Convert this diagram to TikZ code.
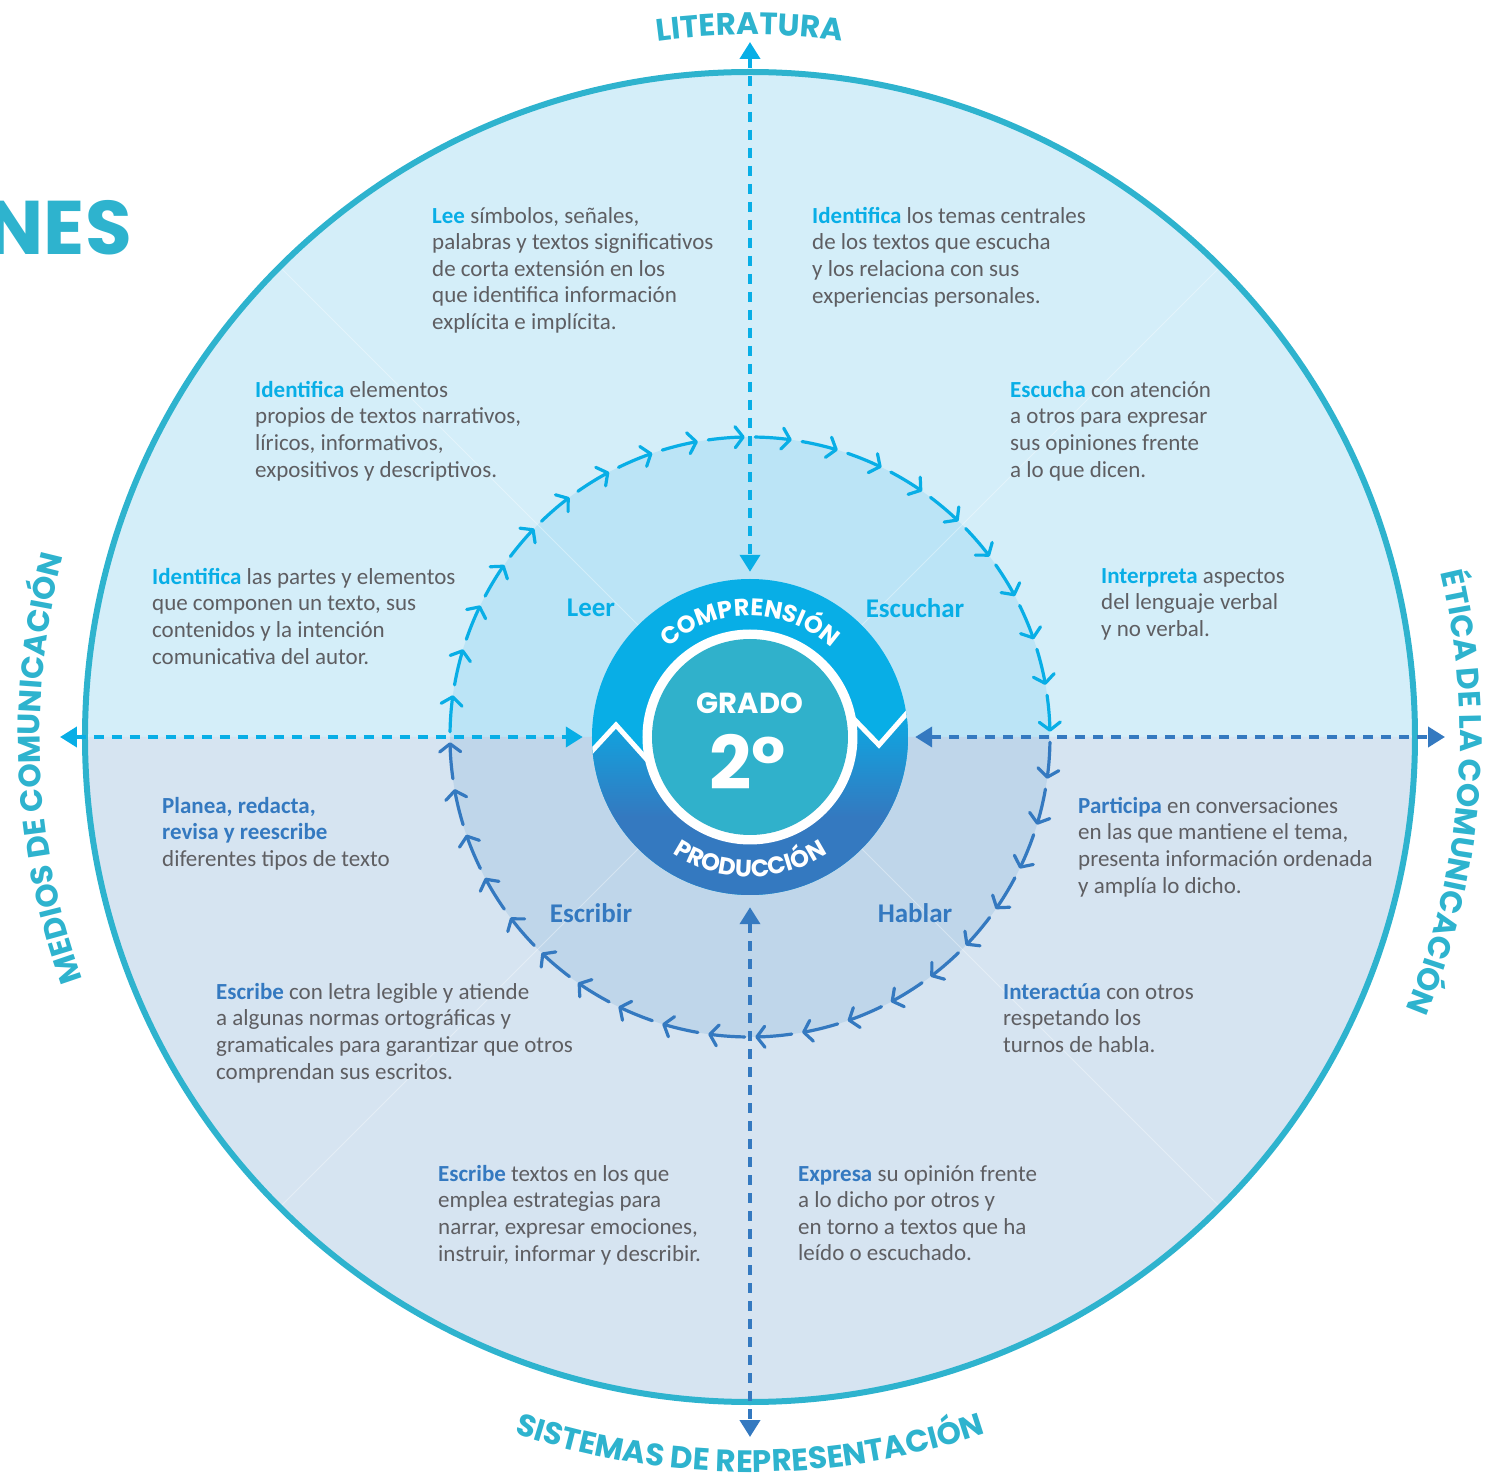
\documentclass[tikz,border=0pt]{standalone}
\usepackage{fontspec}
\usetikzlibrary{arrows.meta,decorations.text}
\newfontfamily\bodyfont{Carlito}
\newfontfamily\headfont{Poppins}
\definecolor{skyA}{HTML}{D4EEF9}
\definecolor{skyB}{HTML}{D6E4F1}
\definecolor{ringA}{HTML}{BBE4F6}
\definecolor{ringB}{HTML}{BFD6EA}
\definecolor{tealC}{HTML}{2EB3CE}
\definecolor{cyanC}{HTML}{08AEE6}
\definecolor{blueC}{HTML}{3479C0}
\definecolor{grayT}{HTML}{5E5E62}
\definecolor{coreT}{HTML}{30B1CB}
\newcommand{\kwc}[1]{\textbf{\color{cyanC}#1}}
\newcommand{\kwb}[1]{\textbf{\color{blueC}#1}}

\begin{document}
\begin{tikzpicture}[x=1pt,y=1pt,
  desc/.style={anchor=north west, inner sep=0pt, align=left, text=grayT, font=\bodyfont\fontsize{23}{26.6}\selectfont},
  skill/.style={inner sep=0pt, font=\bodyfont\bfseries\fontsize{27}{27}\selectfont},
  axisline/.style={color=#1, line width=4pt, dash pattern=on 10pt off 8pt, {Triangle[length=17pt,width=20pt]}-{Triangle[length=17pt,width=20pt]}},
  ringarrow/.style={line width=3.2pt, line cap=round, -{Straight Barb[length=8pt,width=21pt,round]}},
  arclabel/.style={decorate, decoration={text along path, text={|\headfont\bfseries\fontsize{31}{31}\selectfont|#1}, text align=center, text color=tealC}},
  corelabel/.style={decorate, decoration={text along path, text={|\headfont\bfseries\fontsize{24}{24}\selectfont|#1}, text align=center, text color=white}}]
\useasboundingbox (-750,-743) rectangle (750,737);

\fill[skyA] (665pt,0) arc[start angle=0, end angle=180, radius=665pt] -- cycle;
\fill[skyB] (-665pt,0) arc[start angle=180, end angle=360, radius=665pt] -- cycle;
\fill[ringA] (300pt,0) arc[start angle=0, end angle=180, radius=300pt] -- cycle;
\fill[ringB] (-300pt,0) arc[start angle=180, end angle=360, radius=300pt] -- cycle;
\foreach \d in {45,135,225,315}
  \draw[white, opacity=0.35, line width=1pt] (\d:158pt) -- (\d:662pt);
\draw[tealC, line width=6pt] (0,0) circle[radius=665pt];

\node[circle, minimum size=316pt, inner sep=0pt] (core) at (0,0) {};
\coordinate (lit) at (0,695);
\coordinate (rep) at (0,-700);
\coordinate (med) at (-690,0);
\coordinate (eti) at (695,0);
\draw[axisline=cyanC] (lit) -- ([yshift=7pt]core.north);
\draw[axisline=cyanC] (med) -- ([xshift=-9pt]core.west);
\draw[axisline=blueC] ([xshift=7pt]core.east) -- (eti);
\draw[axisline=blueC] ([yshift=-12pt]core.south) -- (rep);

\foreach \k in {0,...,39}{
  \pgfmathsetmacro\tip{91-9*\k}
  \pgfmathsetmacro\tail{\tip+7}
  \ifnum\k<11 \def\col{cyanC}\else\ifnum\k<31 \def\col{blueC}\else\def\col{cyanC}\fi\fi
  \draw[ringarrow, \col] (\tail:300pt) arc[start angle=\tail, end angle=\tip, radius=300pt];
}

\begin{scope}
  \clip (core.center) circle[radius=158pt];
  \fill[cyanC] (-160,-160) rectangle (160,160);
  \begin{scope}
    \clip (-170,-170) -- (-170,-27) -- (-134,12) -- (-107,-18) -- (107,14) -- (129,-8) -- (165,33) -- (170,-170) -- cycle;
    \shade[top color=cyanC!90!blueC, bottom color=blueC] (-170,24) rectangle (170,-80);
    \fill[blueC] (-170,-80) rectangle (170,-170);
  \end{scope}
  \draw[white, line width=5pt, line join=miter] (-170,-27) -- (-134,12) -- (-100,-26);
  \draw[white, line width=5pt, line join=miter] (100,22) -- (129,-8) -- (165,33);
\end{scope}
\fill[white] (core.center) circle[radius=107.5pt];
\fill[coreT] (core.center) circle[radius=98pt];
\path[corelabel=COMPRENSIÓN] (175:121pt) arc[start angle=175, end angle=5, radius=121pt];
\path[corelabel=PRODUCCIÓN] (195:140pt) arc[start angle=195, end angle=345, radius=140pt];
\node[text=white, font=\headfont\bfseries\fontsize{29}{29}\selectfont] (grado) at (0,34) {GRADO};
\node[text=white, font=\headfont\bfseries\fontsize{74}{74}\selectfont] (num) at (-2,-25) {2°};

\path[arclabel=LITERATURA] (150:702pt) arc[start angle=150, end angle=30, radius=702pt];
\path[arclabel=ÉTICA DE LA COMUNICACIÓN] (45.4:710pt) arc[start angle=45.4, end angle=-54.6, radius=710pt];
\path[arclabel=SISTEMAS DE REPRESENTACIÓN] (200:735pt) arc[start angle=200, end angle=340, radius=735pt];
\path[arclabel=MEDIOS DE COMUNICACIÓN] (232.6:710pt) arc[start angle=232.6, end angle=132.6, radius=710pt];
\node[anchor=east, inner sep=0pt, text=tealC, font=\headfont\bfseries\fontsize{76}{76}\selectfont] (part) at (-618,509) {NES};

\node[skill, text=cyanC] (leer) at (-159,129) {Leer};
\node[skill, text=cyanC] (escuchar) at (165,129) {Escuchar};
\node[skill, text=blueC] (escribir) at (-159,-176) {Escribir};
\node[skill, text=blueC] (hablar) at (165,-176) {Hablar};

\node[desc] (lee) at (-318,530) {\kwc{Lee} símbolos, señales,\\palabras y textos significativos\\de corta extensión en los\\que identifica información\\explícita e implícita.};
\node[desc] (temas) at (62,530) {\kwc{Identifica} los temas centrales\\de los textos que escucha\\y los relaciona con sus\\experiencias personales.};
\node[desc] (elementos) at (-495,356) {\kwc{Identifica} elementos\\propios de textos narrativos,\\líricos, informativos,\\expositivos y descriptivos.};
\node[desc] (escucha) at (260,356) {\kwc{Escucha} con atención\\a otros para expresar\\sus opiniones frente\\a lo que dicen.};
\node[desc] (partes) at (-598,169) {\kwc{Identifica} las partes y elementos\\que componen un texto, sus\\contenidos y la intención\\comunicativa del autor.};
\node[desc] (interpreta) at (351,169) {\kwc{Interpreta} aspectos\\del lenguaje verbal\\y no verbal.};
\node[desc] (planea) at (-588,-60) {\kwb{Planea, redacta,}\\\kwb{revisa y reescribe}\\diferentes tipos de texto};
\node[desc] (participa) at (328,-60) {\kwb{Participa} en conversaciones\\en las que mantiene el tema,\\presenta información ordenada\\y amplía lo dicho.};
\node[desc] (letra) at (-534,-246) {\kwb{Escribe} con letra legible y atiende\\a algunas normas ortográficas y\\gramaticales para garantizar que otros\\comprendan sus escritos.};
\node[desc] (interactua) at (253,-246) {\kwb{Interactúa} con otros\\respetando los\\turnos de habla.};
\node[desc] (textos) at (-312,-428) {\kwb{Escribe} textos en los que\\emplea estrategias para\\narrar, expresar emociones,\\instruir, informar y describir.};
\node[desc] (expresa) at (48,-428) {\kwb{Expresa} su opinión frente\\a lo dicho por otros y\\en torno a textos que ha\\leído o escuchado.};
\end{tikzpicture}
\end{document}
